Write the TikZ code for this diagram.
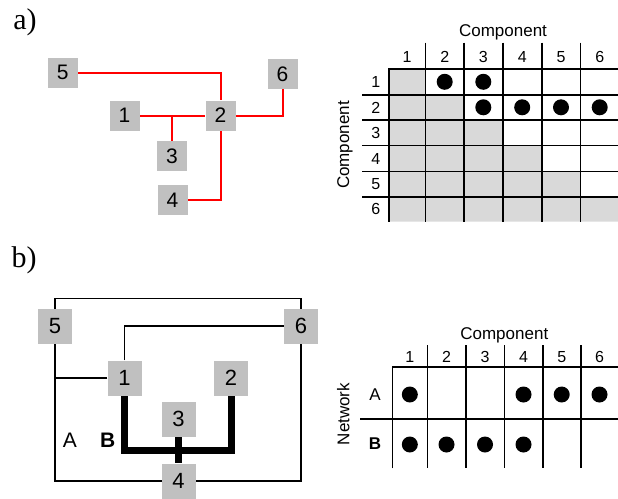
\documentclass[tikz,border=0pt]{standalone}
\usepackage{fontspec}
\setmainfont{Liberation Sans}
\newfontfamily\serifpart{Liberation Serif}
\usetikzlibrary{backgrounds}
\definecolor{nodegray}{RGB}{192,192,192}
\definecolor{cellgray}{RGB}{217,217,217}
\definecolor{lred}{RGB}{255,0,0}
\begin{document}
\begin{tikzpicture}[x=1pt,y=-1pt,
  compa/.style={fill=nodegray, minimum width=30pt, minimum height=30pt, inner sep=0pt, font=\fontsize{21}{21}\selectfont},
  compb/.style={fill=nodegray, minimum width=34pt, minimum height=35pt, inner sep=0pt, font=\fontsize{22}{22}\selectfont},
  redline/.style={draw=lred, line width=2pt},
  thinline/.style={draw=black, line width=1.6pt},
  thickline/.style={draw=black, line width=7pt},
  gridline/.style={draw=black, line width=1.6pt},
  paneltag/.style={font=\serifpart\fontsize{30}{30}\selectfont, inner sep=0pt},
  numtxt/.style={font=\fontsize{16}{16}\selectfont, inner sep=0pt},
  headtxt/.style={font=\fontsize{17}{17}\selectfont, inner sep=0pt},
  dot/.style={fill=black}
]
\useasboundingbox (0,0) rectangle (618,498);

% ---------- panel a ----------
\node[paneltag] (taga) at (25,22) {a)};
\node[compa] (a5) at (62.7,72.5) {5};
\node[compa] (a6) at (282.5,74) {6};
\node[compa] (a1) at (124.5,115.5) {1};
\node[compa] (a2) at (220.5,115.5) {2};
\node[compa] (a3) at (172,156) {3};
\node[compa] (a4) at (172.5,200) {4};
\begin{scope}[on background layer]
\draw[redline] (a5.east) -| (a2.north);
\draw[redline] (a1.east) -- (a2.west);
\draw[redline] (a3.north) -- (a3.north |- a1.east);
\draw[redline] (a2.east) -| (a6.south);
\draw[redline] (a4.east) -| (a2.south);
\end{scope}

% matrix a
\fill[cellgray] (388.7,69) -- (425.3,69) -- (425.3,94.7) -- (464,94.7) -- (464,120) -- (502.7,120)
  -- (502.7,145.3) -- (541.7,145.3) -- (541.7,171.3) -- (580.3,171.3) -- (580.3,196.7)
  -- (618,196.7) -- (618,221.7) -- (388.7,221.7) -- cycle;
\draw[gridline] (388.7,221.7) -- (388.7,69) -- (618,69);
\foreach \xx in {425.3,464,502.7,541.7,580.3} \draw[gridline] (\xx,42.7) -- (\xx,221.7);
\foreach \yy in {94.7,120,145.3,171.3,196.7} \draw[gridline] (362.3,\yy) -- (618,\yy);
\node[headtxt] (hca) at (503,32) {Component};
\node[headtxt, rotate=90] (vca) at (345,145) {Component};
\foreach \i/\xx in {1/407,2/444.7,3/483.3,4/522.2,5/561,6/599.7}
  \node[numtxt] (ca\i) at (\xx,56.7) {\i};
\foreach \i/\yy in {1/82.2,2/107.8,3/133,4/158.5,5/184,6/209.3}
  \node[numtxt] (ra\i) at (375.7,\yy) {\i};
\foreach \xx/\yy in {444.7/81.8, 483.3/81.8, 483.3/107.3, 522.2/107.3, 561/107.3, 599.7/107.3}
  \fill[dot] (\xx,\yy) circle (8);

% ---------- panel b ----------
\node[paneltag] (tagb) at (24,260) {b)};
\node[compb] (b5) at (55,326) {5};
\node[compb] (b6) at (301,326) {6};
\node[compb] (b1) at (124.5,378) {1};
\node[compb] (b2) at (231,378) {2};
\node[compb] (b3) at (178.5,419) {3};
\node[compb] (b4) at (178.5,481) {4};
\coordinate (btop) at (0,298.3);
\coordinate (bjoin) at (178.5,450.7);
\begin{scope}[on background layer]
\draw[thinline] (b5.center |- btop) rectangle (b6.center |- b4.center);
\draw[thinline] (b1.west) -- (b1.west -| b5.center);
\draw[thinline] (b1.north) |- (b6.west);
\draw[thickline] (b1.south) |- (bjoin) -| (b2.south);
\draw[thickline] (b3.south) -- (b4.north);
\end{scope}
\node[font=\fontsize{21}{21}\selectfont, inner sep=0pt] (lA) at (70,440) {A};
\node[font=\bfseries\fontsize{21}{21}\selectfont, inner sep=0pt] (lB) at (107.7,440) {B};

% matrix b
\draw[gridline] (392.3,468.3) -- (392.3,366.7) -- (618,366.7);
\foreach \xx in {427.3,465.7,504.3,542.7,580.7} \draw[gridline] (\xx,345) -- (\xx,468.3);
\draw[gridline] (360,419) -- (618,419);
\node[headtxt] (hcb) at (504.3,335) {Component};
\node[headtxt, rotate=90] (vnb) at (343.3,414) {Network};
\foreach \i/\xx in {1/409.8,2/446.5,3/485,4/523.5,5/561.7,6/599.5}
  \node[numtxt] (cb\i) at (\xx,356.7) {\i};
\node[font=\fontsize{17}{17}\selectfont, inner sep=0pt] (rbA) at (375,394.3) {A};
\node[font=\bfseries\fontsize{17}{17}\selectfont, inner sep=0pt] (rbB) at (375,444) {B};
\foreach \xx in {409.8,523.5,561.7,599.5} \fill[dot] (\xx,394.5) circle (8);
\foreach \xx in {409.8,446.5,485,523.5} \fill[dot] (\xx,444.5) circle (8);
\end{tikzpicture}
\end{document}
